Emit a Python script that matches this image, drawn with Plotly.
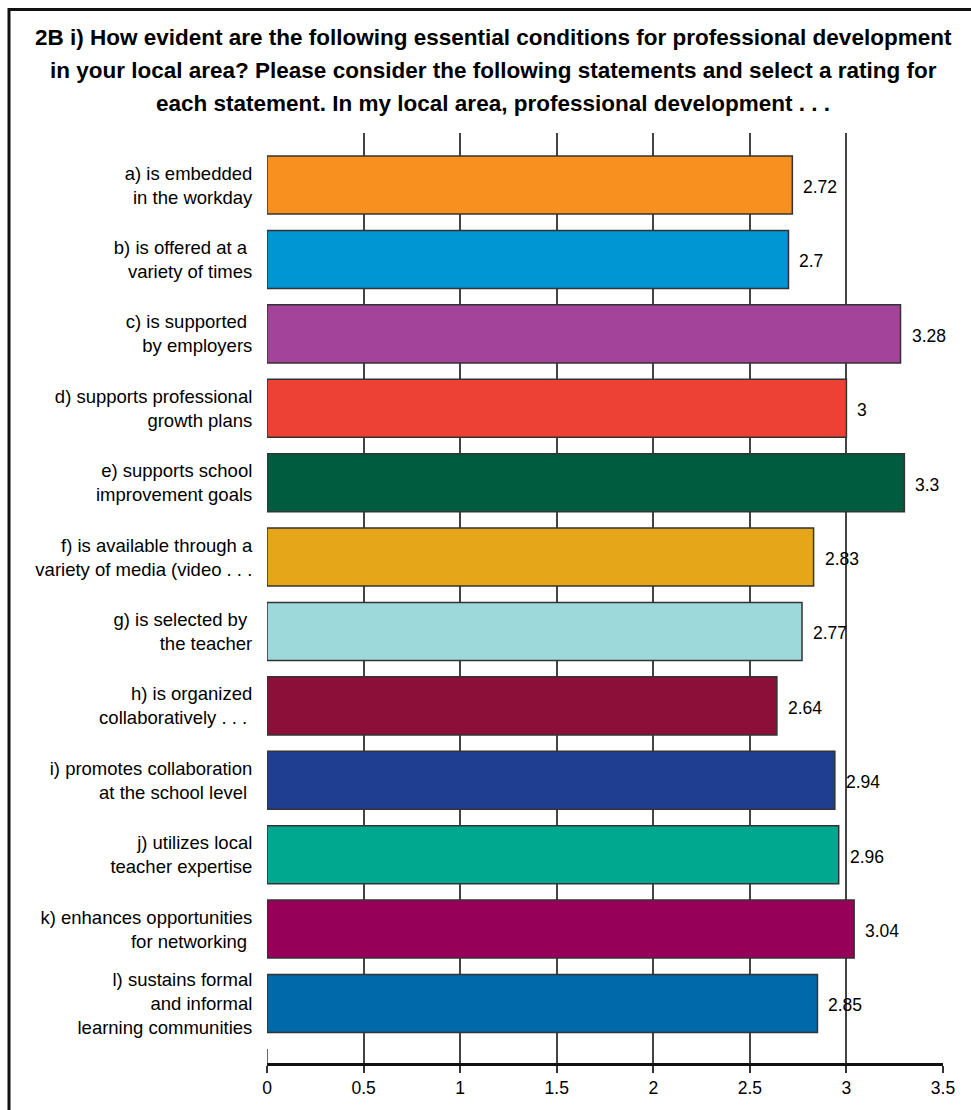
import plotly.graph_objects as go

categories = [
    "a) is embedded<br>in the workday",
    "b) is offered at a <br>variety of times",
    "c) is supported <br>by employers",
    "d) supports professional<br>growth plans",
    "e) supports school<br>improvement goals",
    "f) is available through a<br>variety of media (video . . .",
    "g) is selected by <br>the teacher",
    "h) is organized<br>collaboratively . . . ",
    "i) promotes collaboration<br>at the school level ",
    "j) utilizes local<br>teacher expertise",
    "k) enhances opportunities<br>for networking ",
    "l) sustains formal<br>and informal<br>learning communities",
]
values = [2.72, 2.7, 3.28, 3, 3.3, 2.83, 2.77, 2.64, 2.94, 2.96, 3.04, 2.85]
colors = ["#F7901E", "#0095D3", "#A3449A", "#EE4136", "#005C3E", "#E6A61A",
          "#9DD9DA", "#8C0F39", "#1F3E92", "#00A88F", "#970058", "#0069AA"]
x_ticks = [0, 0.5, 1, 1.5, 2, 2.5, 3, 3.5]

title_lines = [
    "2B i) How evident are the following essential conditions for professional development",
    "in your local area? Please consider the following statements and select a rating for",
    "each statement. In my local area, professional development . . .",
]

FONT = "Liberation Sans, Arial, sans-serif"

W, H = 971, 1110
L, R, T, B = 267, 28, 133, 44
pw, ph = W - L - R, H - T - B

def px_x(p):
    return (p - L) / pw

def px_y(p):
    return (H - B - p) / ph

fig = go.Figure()
fig.add_trace(go.Bar(
    x=values, y=categories, orientation="h",
    marker=dict(color=colors, line=dict(color="#333333", width=1.5)),
    hoverinfo="x+y", showlegend=False,
))

for v, c in zip(values, categories):
    fig.add_annotation(x=v, y=c, xref="x", yref="y", text=f"{v:g}",
                       showarrow=False, xanchor="left", yanchor="middle",
                       xshift=9, yshift=-2,
                       font=dict(family=FONT, size=17.5, color="#000000"))

for i, line in enumerate(title_lines):
    fig.add_annotation(x=px_x(493), y=px_y(37 + 33 * i), xref="paper", yref="paper",
                       text=f"<b>{line}</b>", showarrow=False,
                       xanchor="center", yanchor="middle",
                       font=dict(family=FONT, size=22.5, color="#000000"))

shapes = [
    # outer frame
    dict(type="rect", xref="paper", yref="paper",
         x0=px_x(9), x1=px_x(990), y0=px_y(1130), y1=px_y(9),
         line=dict(color="#111111", width=3), fillcolor="rgba(0,0,0,0)", layer="below"),
    # short tick at zero above axis
    dict(type="line", xref="x", yref="paper", x0=0, x1=0, y0=0, y1=14 / ph,
         line=dict(color="#333333", width=1.5)),
]

fig.update_layout(
    width=W, height=H,
    margin=dict(l=L, r=R, t=T, b=B),
    paper_bgcolor="white", plot_bgcolor="white",
    bargap=0.22,
    xaxis=dict(range=[0, 3.5], tickvals=x_ticks, showgrid=True,
               gridcolor="#444444", gridwidth=1.5,
               zeroline=True, zerolinecolor="rgba(0,0,0,0)",
               showline=True, linecolor="#111111", linewidth=3,
               ticks="outside", ticklen=7, tickwidth=1.5, tickcolor="#333333",
               tickfont=dict(family=FONT, size=17.5, color="#000000"),
               fixedrange=True),
    yaxis=dict(categoryorder="array", categoryarray=categories,
               range=[len(categories) - 1 + 0.8, -0.7],
               showgrid=False, zeroline=False, showline=False,
               ticks="outside", ticklen=10, tickcolor="rgba(0,0,0,0)",
               tickfont=dict(family=FONT, size=18.5, color="#000000"),
               fixedrange=True),
    shapes=shapes,
)

fig.write_html("out.html")
